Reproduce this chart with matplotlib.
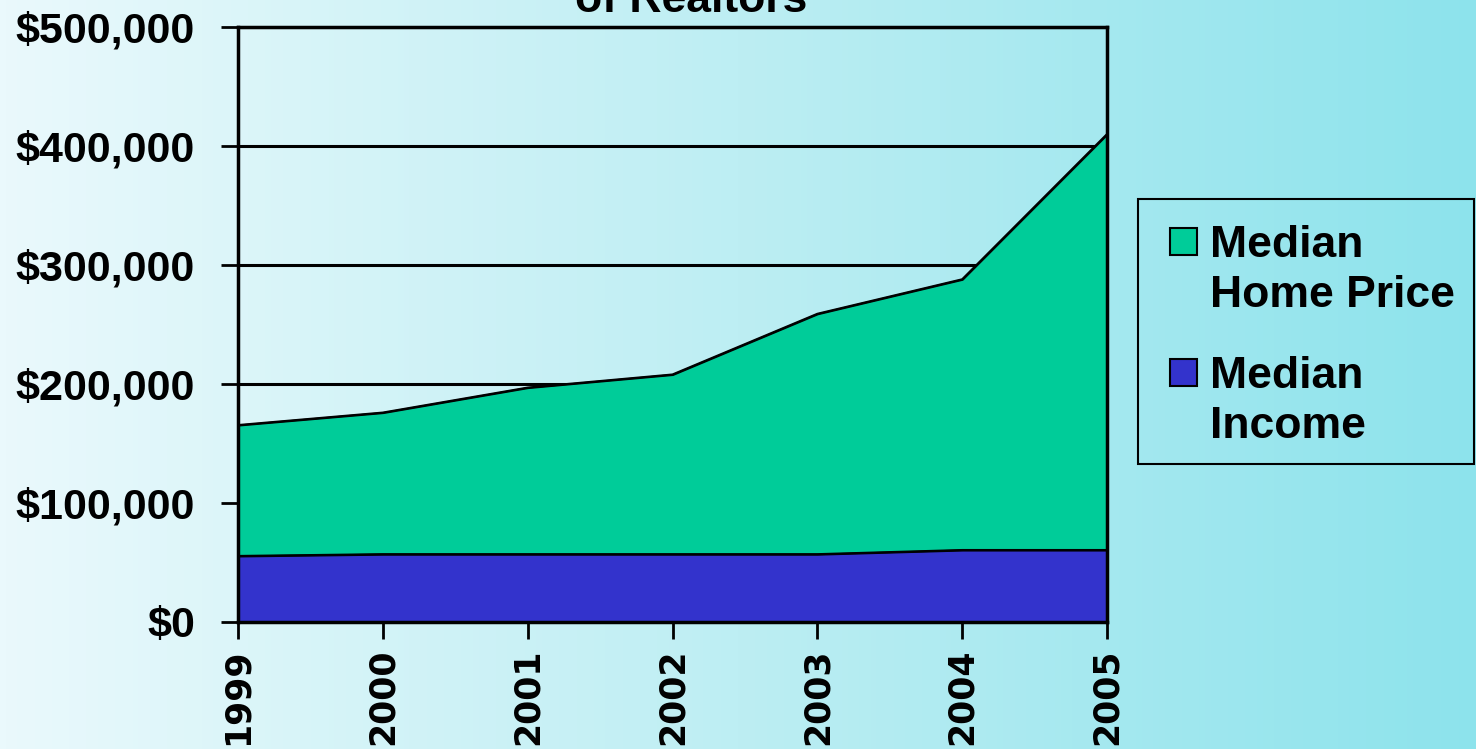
import numpy as np
import matplotlib.pyplot as plt
from matplotlib.patches import Rectangle
from matplotlib.colors import LinearSegmentedColormap

years = [1999, 2000, 2001, 2002, 2003, 2004, 2005]
home_price = [165500, 176000, 197000, 208000, 259000, 288000, 410000]
income = [55500, 57000, 57000, 57000, 57000, 60500, 60500]
yticks = [0, 100000, 200000, 300000, 400000, 500000]
ytick_labels = ['$0', '$100,000', '$200,000', '$300,000', '$400,000', '$500,000']
legend_labels = ['Median\nHome Price', 'Median\nIncome']

green = '#00cc99'
blue = '#3333cc'
W, H = 1476, 749

fig = plt.figure(figsize=(14.76, 7.49), dpi=100)

# background gradient, light on the left to aqua on the right
bg = fig.add_axes([0, 0, 1, 1], zorder=-10)
cmap = LinearSegmentedColormap.from_list('bg', ['#eaf9fc', '#bdeef3', '#8de3ec'])
bg.imshow(np.linspace(0, 1, 256).reshape(1, -1), aspect='auto', cmap=cmap,
          extent=[0, 1, 0, 1])
bg.set_axis_off()

ax = fig.add_axes([238 / W, 1 - 622 / H, (1107 - 238) / W, (622 - 27) / H])
ax.set_facecolor('none')

ax.fill_between(years, home_price, color=green, edgecolor='black', linewidth=1.5, zorder=2)
ax.fill_between(years, income, color=blue, edgecolor='black', linewidth=1.5, zorder=3)
ax.plot(years, home_price, color='black', lw=1.5, zorder=4)
ax.plot(years, income, color='black', lw=1.5, zorder=4)

for v in yticks[1:]:
    ax.axhline(v, color='black', lw=2.2, zorder=1)

ax.set_xlim(years[0], years[-1])
ax.set_ylim(0, 500000)
ax.set_xticks(years)
ax.set_xticklabels([str(y) for y in years], rotation=90, fontsize=25,
                   fontweight='bold', family='DejaVu Sans', va='top')
ax.set_yticks(yticks)
ax.set_yticklabels(ytick_labels, fontsize=31, fontweight='bold', family='Liberation Sans')
ax.tick_params(axis='both', direction='out', length=12, width=2, colors='black')
ax.tick_params(axis='y', pad=19)
ax.tick_params(axis='x', pad=7)
for s in ax.spines.values():
    s.set_linewidth(2.5)
    s.set_zorder(5)

fig.text(0.468, 0.972, 'Source: California Association\nof Realtors', ha='center', va='bottom',
         fontsize=32, fontweight='bold', family='Liberation Sans', linespacing=1.0)

# legend box drawn in figure pixels
fig.patches.append(Rectangle((1138 / W, 1 - 464 / H), (1474 - 1138) / W, (464 - 199) / H,
                             transform=fig.transFigure, facecolor='none',
                             edgecolor='black', lw=1.5))
for i, (lab, col) in enumerate(zip(legend_labels, [green, blue])):
    top = 228 + i * 131
    fig.patches.append(Rectangle((1170 / W, 1 - (top + 27) / H), 27 / W, 27 / H,
                                 transform=fig.transFigure, facecolor=col,
                                 edgecolor='black', lw=1.5))
    fig.text(1210 / W, 1 - (top - 3) / H, lab, ha='left', va='top', fontsize=32,
             fontweight='bold', family='Liberation Sans', linespacing=1.27)

fig.savefig('out.png', dpi=100)
